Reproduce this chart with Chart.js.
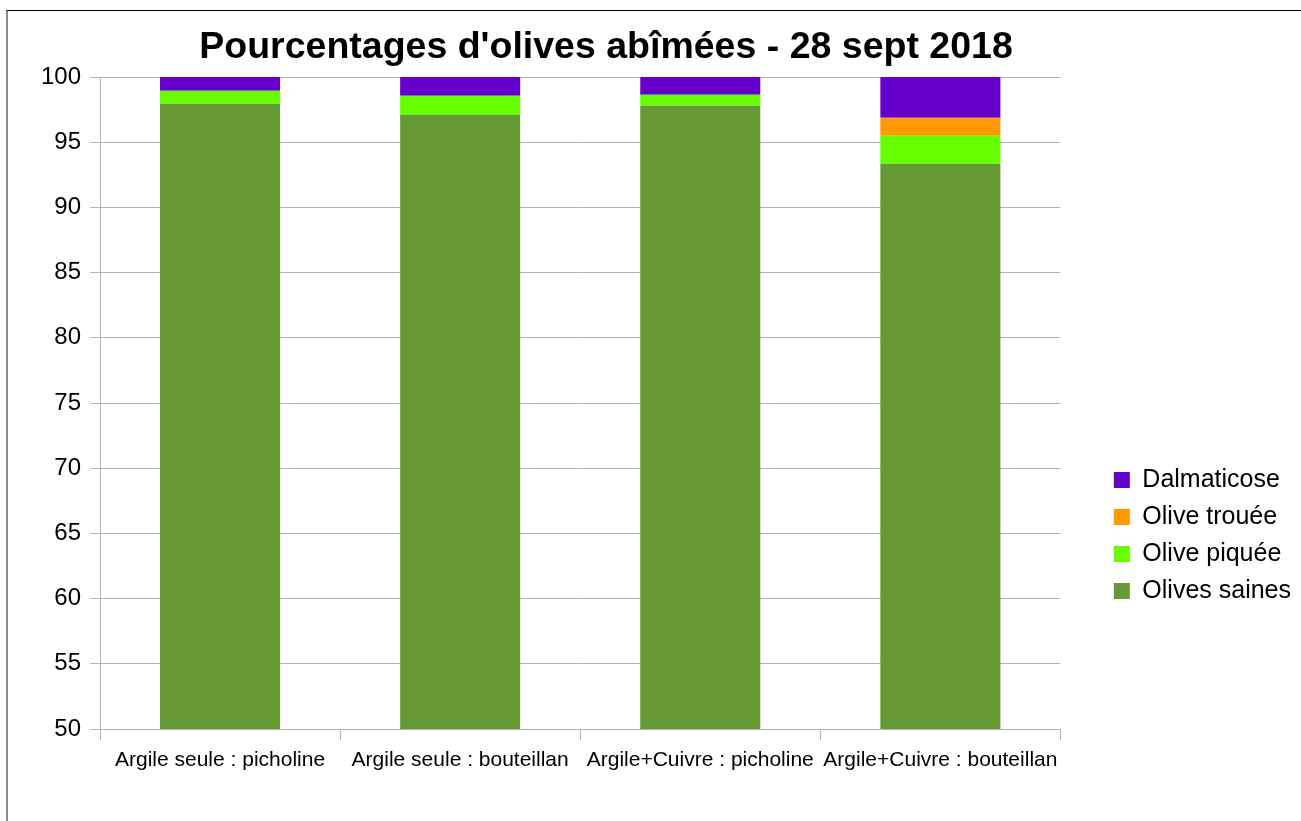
<!DOCTYPE html>
<html>
<head>
<meta charset="utf-8">
<script src="https://cdn.jsdelivr.net/npm/chart.js@4"></script>
<style>
  html, body { margin: 0; padding: 0; background: #fff; }
  #wrap { position: relative; width: 1301px; height: 821px; overflow: hidden; }
  #frame { position: absolute; left: 6px; top: 10px; width: 1400px; height: 900px;
           border-left: 2px solid #8a8a8a; border-top: 1px solid #000; pointer-events: none; }
</style>
</head>
<body>
<div id="wrap">
  <canvas id="c"></canvas>
  <div id="frame"></div>
</div>
<script>
const categories = ["Argile seule : picholine", "Argile seule : bouteillan", "Argile+Cuivre : picholine", "Argile+Cuivre : bouteillan"];
const olivesSaines = [97.95, 97.11, 97.80, 93.35];
const olivePiquee  = [1.00, 1.46, 0.84, 2.15];
const oliveTrouee  = [0, 0, 0, 1.38];
const dalmaticose  = [1.05, 1.43, 1.36, 3.12];
const yTicks = [50, 55, 60, 65, 70, 75, 80, 85, 90, 95, 100];

const FONT = "'Liberation Sans', Arial, sans-serif";

const titleShift = {
  id: 'titleShift',
  afterLayout(chart) {
    const t = chart.titleBlock;
    if (t) { t.left = 0; t.right = 1212; }
  }
};

new Chart(document.getElementById('c'), {
  type: 'bar',
  data: {
    labels: categories,
    datasets: [
      { label: 'Olives saines', data: olivesSaines, backgroundColor: '#669933' },
      { label: 'Olive piquée', data: olivePiquee, backgroundColor: '#66ff00' },
      { label: 'Olive trouée', data: oliveTrouee, backgroundColor: '#ff9900' },
      { label: 'Dalmaticose', data: dalmaticose, backgroundColor: '#6600cc' }
    ]
  },
  options: {
    responsive: true,
    maintainAspectRatio: false,
    animation: false,
    layout: { padding: 0, autoPadding: false },
    datasets: { bar: { barPercentage: 0.5, categoryPercentage: 1.0, borderWidth: 0 } },
    scales: {
      x: {
        stacked: true,
        offset: true,
        grid: { drawOnChartArea: false, drawTicks: true, tickLength: 11, color: '#b3b3b3', offset: true },
        border: { color: '#b3b3b3' },
        ticks: { color: '#000', font: { family: FONT, size: 21 }, padding: 8, maxRotation: 0, autoSkip: false },
        afterFit(s) { s.height = 92; }
      },
      y: {
        stacked: true,
        min: 50, max: 100,
        afterBuildTicks(s) { s.ticks = yTicks.map(v => ({ value: v })); },
        grid: { color: '#b3b3b3', tickLength: 10 },
        border: { color: '#b3b3b3' },
        ticks: { color: '#000', font: { family: FONT, size: 24 }, padding: 9 },
        afterFit(s) { s.width = 100; }
      },
      y2: {
        position: 'right',
        display: true,
        grid: { display: false, drawTicks: false },
        border: { display: false },
        ticks: { display: false },
        afterFit(s) { s.width = 41.4; }
      }
    },
    plugins: {
      title: {
        display: true,
        text: "Pourcentages d'olives abîmées - 28 sept 2018",
        color: '#000',
        font: { family: FONT, size: 37.5, weight: 'bold' },
        padding: { top: 25, bottom: 7 }
      },
      legend: {
        position: 'right',
        fullSize: false,
        align: 'start',
        reverse: true,
        title: { display: true, text: ' ', font: { size: 12 }, padding: { top: 364.1, bottom: 0 } },
        labels: {
          color: '#000',
          font: { family: FONT, size: 25 },
          boxWidth: 16, boxHeight: 16,
          padding: 12
        }
      },
      tooltip: { enabled: false }
    }
  },
  plugins: [titleShift]
});
</script>
</body>
</html>
